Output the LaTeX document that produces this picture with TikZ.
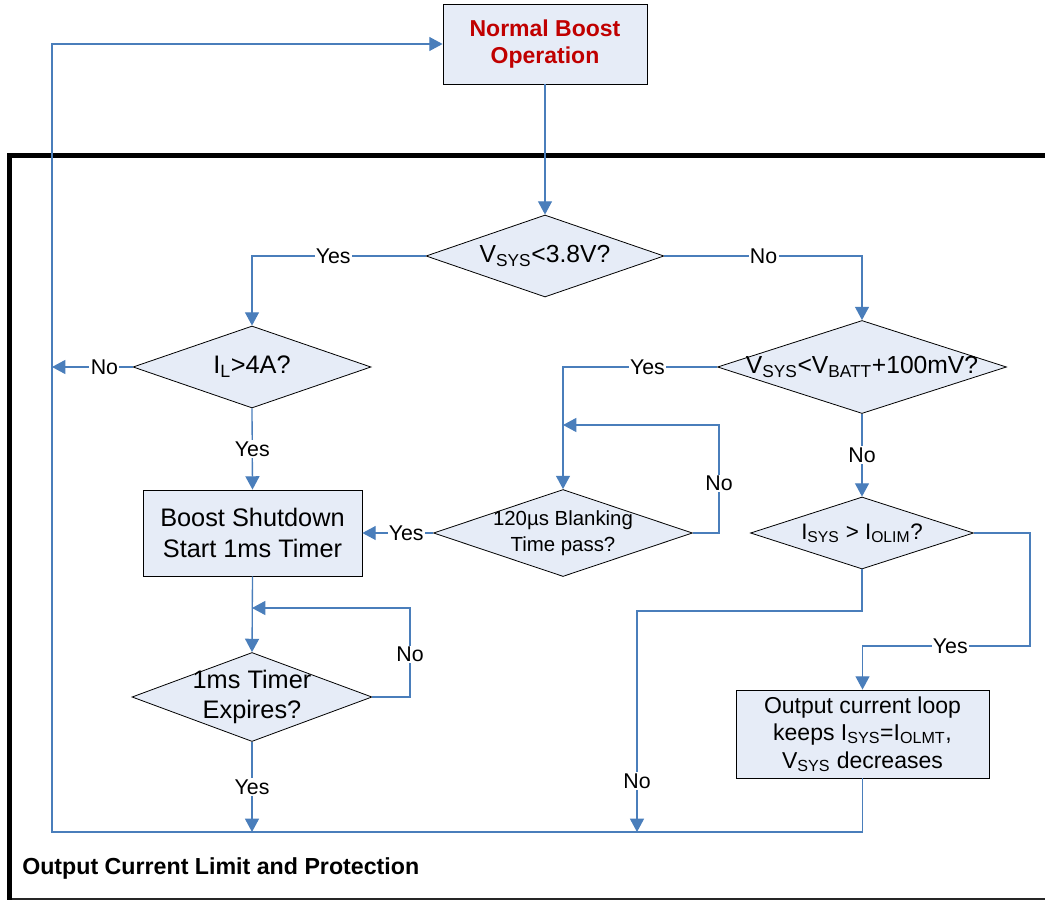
\documentclass[tikz,border=0pt]{standalone}
\usepackage{fontspec}
\setmainfont{Liberation Sans}
\usetikzlibrary{shapes.geometric,arrows.meta}
\definecolor{boxfill}{HTML}{E6ECF7}
\definecolor{lineblue}{HTML}{4A7EBB}
\definecolor{titlered}{HTML}{C00000}
\newcommand{\sbs}[1]{\textsubscript{#1}}
\newcommand{\fsz}[2]{\fontsize{#1}{#2}\selectfont}
\tikzset{
  flow/.style={draw=black, line width=0.6pt, fill=boxfill},
  dia/.style={flow, diamond, inner sep=0pt},
  rbox/.style={flow, rectangle, inner sep=0pt, align=center},
  dtxt/.style={align=center, inner sep=0pt},
  conn/.style={draw=lineblue, line width=1pt},
  arr/.style={conn, -{Triangle[length=10pt,width=10.5pt]}},
  lbl/.style={fill=white, inner sep=1pt, text=black, font=\fsz{16}{19}},
}
\begin{document}
\begin{tikzpicture}[x=0.75pt,y=-0.75pt]
\useasboundingbox (0,0) rectangle (1045,902);
% frame
\draw[line width=1.5pt, black!85] (9.5,899) -- (1045,899);
\draw[line width=3.75pt] (1045,155.5) -- (9.5,155.5) -- (9.5,900);

% nodes
\node[rbox, minimum width=153pt, minimum height=60pt, text=titlered, font=\bfseries\fsz{17.25}{20}] (B0) at (545,44) {Normal Boost\\Operation};
\node[dia, minimum width=178.5pt, minimum height=61.5pt] (D1) at (545,256) {};
\node[dtxt, font=\fsz{18.5}{22}] (D1t) at (D1) {V\sbs{SYS}<3.8V?};
\node[dia, minimum width=178.5pt, minimum height=61.5pt] (D2) at (252,367) {};
\node[dtxt, font=\fsz{19}{22}] (D2t) at (D2) {I\sbs{L}>4A?};
\node[dia, minimum width=216.75pt, minimum height=69.75pt] (D3) at (862,367) {};
\node[dtxt, font=\fsz{18.5}{22}] (D3t) at (D3) {V\sbs{SYS}<V\sbs{BATT}+100mV?};
\node[rbox, minimum width=164.25pt, minimum height=64.5pt, font=\fsz{19}{23}] (B1) at (252.5,533) {Boost Shutdown\\Start 1ms Timer};
\node[dia, minimum width=194.25pt, minimum height=65.25pt] (D5) at (563,533) {};
\node[dtxt, font=\fsz{15.3}{19.5}] (D5t) at (D5) {120µs Blanking\\Time pass?};
\node[dia, minimum width=167.25pt, minimum height=54pt] (D6) at (862,533) {};
\node[dtxt, font=\fsz{16.8}{20}] (D6t) at (D6) {I\sbs{SYS} > I\sbs{OLIM}?};
\node[dia, minimum width=180pt, minimum height=66.75pt] (D4) at (252,697) {};
\node[dtxt, font=\fsz{19}{23}] (D4t) at (D4) {1ms Timer\\Expires?};
\node[rbox, minimum width=189.75pt, minimum height=66pt, font=\fsz{17.25}{20.6}] (B2) at (862.5,734) {Output current loop\\keeps I\sbs{SYS}=I\sbs{OLMT},\\V\sbs{SYS} decreases};
\node[anchor=west, inner sep=0pt, font=\bfseries\fsz{17.4}{20}] (title) at (22,868) {Output Current Limit and Protection};

% coordinates
\coordinate (L2) at (52,367);
\coordinate (J5) at (563,425);
\coordinate (R5) at (719,425);
\coordinate (N6a) at (862,611);
\coordinate (N6b) at (637,832);
\coordinate (Y6) at (1030,646);
\coordinate (Rb) at (52,832);
\coordinate (J4) at (252,608);
\coordinate (R4) at (410,608);
\coordinate (E4) at (252,832);

% connectors
\draw[arr] (B0.south) -- (D1.north);
\draw[arr] (D1.west) -| node[lbl,pos=0.266]{Yes} (D2.north);
\draw[arr] (D1.east) -| node[lbl,pos=0.251]{No} (D3.north);
\draw[arr] (D2.west) -- node[lbl,pos=0.35]{No} (L2);
\draw[arr] (D2.south) -- node[lbl]{Yes} (B1.north);
\draw[arr] (D3.west) -| node[lbl,pos=0.226]{Yes} (D5.north);
\draw[arr] (D5.east) -| node[lbl,pos=0.73]{No} (R5) -- (J5);
\draw[arr] (D5.west) -- node[lbl,pos=0.38]{Yes} (B1.east);
\draw[arr] (D3.south) -- node[lbl]{No} (D6.north);
\draw[arr] (D6.south) -- (N6a) -| node[lbl,pos=0.885]{No} (N6b);
\draw[arr] (D6.east) -| (Y6) -| node[lbl,pos=0.238]{Yes} (B2.north);
\draw[arr] (B2.south) |- (Rb) |- (B0.west);
\draw[arr] (B1.south) -- (D4.north);
\draw[arr] (D4.east) -| node[lbl,pos=0.74]{No} (R4) -- (J4);
\draw[arr] (D4.south) -- node[lbl]{Yes} (E4);
\end{tikzpicture}
\end{document}
